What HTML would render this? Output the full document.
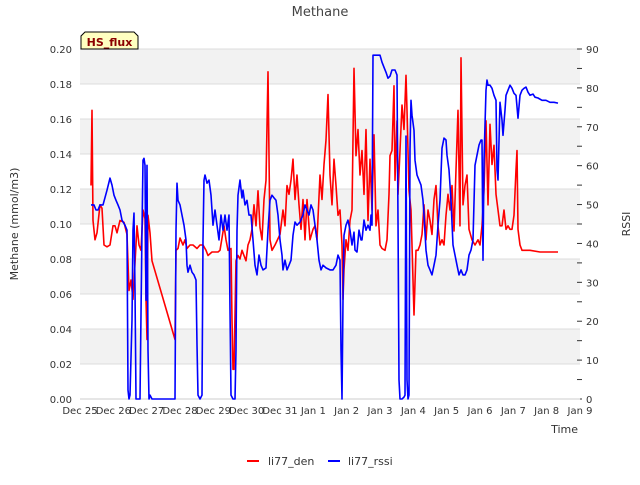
<!DOCTYPE html>
<html><head><meta charset="utf-8"><style>
body{margin:0;background:#fff;font-family:"Liberation Sans","DejaVu Sans",sans-serif}
text{font-family:"DejaVu Sans","Liberation Sans",sans-serif}
</style></head><body>
<svg id="chart" width="640" height="480" viewBox="0 0 640 480" xmlns="http://www.w3.org/2000/svg">
<g id="bands"></g><g id="grid"></g><g id="axes"></g>
<g id="series"></g>
<text x="320" y="16" text-anchor="middle" font-size="13" fill="#444">Methane</text>
<text transform="translate(18,224) rotate(-90)" text-anchor="middle" font-size="11" fill="#333">Methane (mmol/m3)</text>
<text transform="translate(630,224) rotate(-90)" text-anchor="middle" font-size="11" fill="#333">RSSI</text>
<text x="578" y="433" text-anchor="end" font-size="11" fill="#333">Time</text>
<g><path d="M81,49 L81,36 L85,32 L134,32 L138,36 L138,49 Z" fill="#ffffc0" stroke="#000" stroke-width="1"/>
<text x="109.5" y="46" text-anchor="middle" font-size="11" font-weight="bold" fill="#8b0000">HS_flux</text></g>
<g>
<g><line x1="247" y1="461" x2="259" y2="461" stroke="#f00" stroke-width="2"/><text x="268" y="465" font-size="11" fill="#333">li77_den</text></g>
<g><line x1="328" y1="461" x2="340" y2="461" stroke="#00f" stroke-width="2"/><text x="348" y="465" font-size="11" fill="#333">li77_rssi</text></g>
</g>
</svg>
<script>
const xTickLabels=["Dec 25","Dec 26","Dec 27","Dec 28","Dec 29","Dec 30","Dec 31","Jan 1","Jan 2","Jan 3","Jan 4","Jan 5","Jan 6","Jan 7","Jan 8","Jan 9"];
const yTicks=[0,0.02,0.04,0.06,0.08,0.10,0.12,0.14,0.16,0.18,0.20];
const y2Ticks=[0,10,20,30,40,50,60,70,80,90];
const denDays=[0.33,0.36,0.39,0.45,0.51,0.6,0.66,0.72,0.81,0.9,0.99,1.05,1.11,1.2,1.32,1.41,1.47,1.53,1.59,1.68,1.71,1.77,1.83,1.89,1.95,1.98,2.01,2.04,2.1,2.16,2.85,2.88,2.94,3.0,3.09,3.15,3.21,3.3,3.39,3.51,3.6,3.69,3.78,3.84,3.96,4.14,4.2,4.26,4.32,4.38,4.44,4.53,4.56,4.59,4.62,4.68,4.74,4.8,4.86,4.98,5.04,5.1,5.16,5.22,5.28,5.34,5.4,5.46,5.52,5.58,5.64,5.7,5.76,5.85,6.0,6.09,6.15,6.21,6.27,6.33,6.39,6.45,6.51,6.57,6.63,6.69,6.75,6.81,6.9,6.99,7.05,7.11,7.2,7.26,7.32,7.38,7.44,7.5,7.56,7.62,7.68,7.74,7.8,7.86,7.89,7.92,7.98,8.04,8.1,8.16,8.22,8.28,8.34,8.4,8.46,8.52,8.58,8.64,8.7,8.76,8.82,8.88,8.94,9.0,9.06,9.15,9.21,9.27,9.3,9.36,9.42,9.45,9.51,9.54,9.6,9.66,9.72,9.78,9.81,9.87,9.93,9.99,10.02,10.08,10.14,10.2,10.26,10.32,10.38,10.44,10.5,10.56,10.62,10.68,10.74,10.8,10.86,10.92,10.98,11.04,11.1,11.16,11.22,11.28,11.34,11.4,11.43,11.49,11.55,11.61,11.67,11.76,11.85,11.94,12.0,12.06,12.12,12.18,12.24,12.3,12.36,12.42,12.48,12.54,12.6,12.66,12.72,12.78,12.84,12.9,12.96,13.02,13.08,13.11,13.14,13.2,13.26,13.5,13.8,14.1,14.34];
const denValues=[.122,.165,.102,.091,.095,.111,.109,.088,.087,.088,.099,.099,.095,.102,.101,.094,.062,.068,.057,.088,.099,.088,.085,.108,.103,.057,.034,.105,.095,.079,.034,.085,.086,.092,.088,.091,.086,.088,.088,.086,.088,.088,.085,.082,.084,.084,.085,.092,.099,.091,.085,.086,.045,.017,.017,.079,.082,.080,.085,.079,.088,.091,.097,.111,.099,.119,.098,.091,.114,.125,.187,.091,.085,.088,.094,.108,.099,.122,.117,.125,.137,.114,.128,.111,.097,.114,.091,.114,.091,.097,.099,.091,.128,.114,.134,.148,.174,.128,.111,.137,.122,.105,.108,.088,.057,.074,.091,.085,.102,.108,.189,.139,.154,.128,.142,.117,.154,.102,.137,.108,.151,.099,.108,.088,.086,.085,.091,.117,.139,.142,.179,.125,.159,.117,.142,.168,.154,.185,.165,.119,.108,.068,.048,.085,.085,.088,.094,.111,.091,.108,.102,.094,.114,.122,.099,.088,.091,.088,.105,.117,.108,.122,.096,.131,.165,.099,.195,.111,.122,.128,.097,.091,.088,.091,.088,.099,.119,.159,.111,.157,.134,.145,.117,.108,.099,.099,.108,.097,.099,.097,.097,.105,.131,.142,.097,.088,.085,.085,.084,.084,.084];
const rssiDays=[0.33,0.42,0.48,0.54,0.6,0.69,0.81,0.9,0.96,1.02,1.08,1.14,1.2,1.26,1.35,1.41,1.44,1.47,1.5,1.56,1.59,1.62,1.65,1.68,1.8,1.86,1.89,1.92,1.95,1.98,2.01,2.04,2.07,2.1,2.16,2.85,2.88,2.91,2.94,3.0,3.06,3.12,3.18,3.21,3.24,3.3,3.36,3.42,3.48,3.51,3.54,3.6,3.66,3.69,3.72,3.75,3.81,3.87,3.93,3.99,4.05,4.11,4.17,4.23,4.29,4.35,4.41,4.47,4.5,4.53,4.59,4.65,4.68,4.71,4.74,4.8,4.86,4.89,4.95,5.01,5.07,5.13,5.19,5.25,5.31,5.37,5.43,5.49,5.58,5.64,5.7,5.76,5.82,5.88,5.94,6.0,6.06,6.09,6.15,6.21,6.27,6.33,6.39,6.45,6.51,6.6,6.69,6.75,6.81,6.87,6.93,6.99,7.05,7.11,7.17,7.23,7.29,7.38,7.5,7.59,7.68,7.74,7.8,7.83,7.86,7.89,7.92,7.98,8.04,8.1,8.16,8.22,8.25,8.31,8.37,8.43,8.46,8.52,8.58,8.64,8.7,8.73,8.76,8.79,8.85,9.0,9.06,9.12,9.18,9.24,9.3,9.36,9.45,9.51,9.54,9.57,9.6,9.66,9.72,9.75,9.78,9.81,9.84,9.87,9.9,9.93,9.96,10.02,10.05,10.11,10.17,10.23,10.29,10.32,10.38,10.44,10.5,10.56,10.62,10.68,10.74,10.8,10.86,10.92,10.98,11.01,11.07,11.13,11.19,11.25,11.31,11.37,11.43,11.49,11.55,11.61,11.67,11.73,11.79,11.85,11.91,11.97,12.03,12.06,12.09,12.12,12.18,12.21,12.24,12.3,12.36,12.42,12.48,12.51,12.54,12.6,12.66,12.69,12.75,12.78,12.84,12.9,12.96,13.02,13.08,13.14,13.2,13.26,13.32,13.38,13.44,13.5,13.59,13.65,13.74,13.86,13.98,14.1,14.22,14.34];
const rssiValues=[49.9,49.9,48.6,48.6,49.9,49.9,53.7,56.8,55,52.4,51.1,49.9,48.6,46,44.7,43.4,2.3,0,1,20.3,43.4,47.8,28,0,0,43.4,61.4,61.9,60.1,25.4,60.1,12.6,0,1,0,0,43.4,55.5,51.1,49.9,47.3,44.7,40.9,34.4,32.6,34.4,32.6,31.9,30.6,13.9,1,0,1,40.9,56.3,57.6,55.5,56.3,52.4,44.7,48.6,44.7,40.9,47.3,43.4,47.3,43.4,47.3,22.9,1,0,0,12.6,43.4,52.4,56.3,51.7,53.7,49.9,51.1,47.3,47.3,40.9,34.4,31.9,37,34.4,33.2,33.7,43.4,51.1,52.4,51.7,51.1,47.3,40.9,37,33.2,35.7,33.2,34.4,35.7,42.1,45.5,44.7,45.5,47.3,49.9,48.6,47.3,49.9,48.6,44.7,40.9,35.7,33.2,34.4,33.7,33.2,33.2,34.4,37,35.7,12.6,0,25.4,42.1,44.7,46,43.4,39.6,42.9,38.3,37.8,43.4,40.9,40.9,46,43.4,44.7,43.4,47.3,44.7,88.4,88.4,88.4,86.6,85.3,84,82.5,83,84.6,84.6,83.3,46,4.9,0,0,0.5,1,67.6,4.9,0,1,64,76.8,73,69.1,61.4,57.6,56.3,55,51.1,47.3,38.3,34.4,33.2,31.9,34.4,37,44.7,51.1,64.5,67.1,66.6,62.7,58.9,51.1,39.6,37,34.4,31.9,33.2,31.9,31.9,33.2,37,38.3,40.9,60.1,62.7,65.3,66.6,66.6,35.7,61.4,79.4,82,80.7,80.7,79.9,78.1,76.8,58.9,56.3,76.3,71.7,67.8,74.3,78.1,79.4,80.7,79.9,78.6,78.1,72.2,78.1,79.4,79.9,80.2,78.9,78.1,78.4,77.6,77.4,76.8,76.8,76.3,76.3,76.1];

const L=80,R=580,T=49,B=399;
const xs=d=>L+d*(R-L)/15;
const ys=v=>B-v/0.2*(B-T);
const ys2=v=>B-v/90*(B-T);
const NS="http://www.w3.org/2000/svg";
function mk(tag,attrs,parent){const e=document.createElementNS(NS,tag);for(const k in attrs)e.setAttribute(k,attrs[k]);parent.appendChild(e);return e;}
const bands=document.getElementById('bands'),grid=document.getElementById('grid'),axes=document.getElementById('axes'),series=document.getElementById('series');
for(let i=0;i<yTicks.length-1;i++){
  if(i%2===1){const r=mk('rect',{x:L,y:ys(yTicks[i+1]),width:R-L,height:ys(yTicks[i])-ys(yTicks[i+1]),fill:'#f2f2f2'},bands);
  
  }
}
yTicks.forEach(v=>{
  const g=mk('line',{x1:L,x2:R,y1:ys(v),y2:ys(v),stroke:'#dcdcdc','stroke-width':1},grid);
  
  
  const t=mk('text',{x:72,y:ys(v)+4,'text-anchor':'end','font-size':10,fill:'#333'},axes);
  t.textContent=v.toFixed(2);
  
  
});
y2Ticks.forEach(v=>{
  const t=mk('text',{x:586,y:ys2(v)+4,'text-anchor':'start','font-size':10,fill:'#333'},axes);
  t.textContent=v;
  
  
  mk('line',{x1:R-3,x2:R+2,y1:ys2(v),y2:ys2(v),stroke:'#333'},axes);
  if(v<90)mk('line',{x1:R-3,x2:R+2,y1:ys2(v+5),y2:ys2(v+5),stroke:'#333'},axes);
});
const ax=mk('line',{x1:L,x2:R,y1:B,y2:B,stroke:'#ccc'},axes);


xTickLabels.forEach((s,i)=>{
  const t=mk('text',{x:xs(i),y:414,'text-anchor':'middle','font-size':10,fill:'#333'},axes);
  t.textContent=s;
  
  
});
function line(days,vals,sc,color,name){
  const d=days.map((t,i)=>(i?'L':'M')+xs(t).toFixed(1)+','+sc(vals[i]).toFixed(1)).join(' ');
  const p=mk('path',{d:d,fill:'none',stroke:color,'stroke-width':1.6,'stroke-linejoin':'round'},series);
  
  
}
line(denDays,denValues,ys,'#ff0000','li77-den-line');
line(rssiDays,rssiValues,ys2,'#0000ff','li77-rssi-line');
</script>
</body></html>
